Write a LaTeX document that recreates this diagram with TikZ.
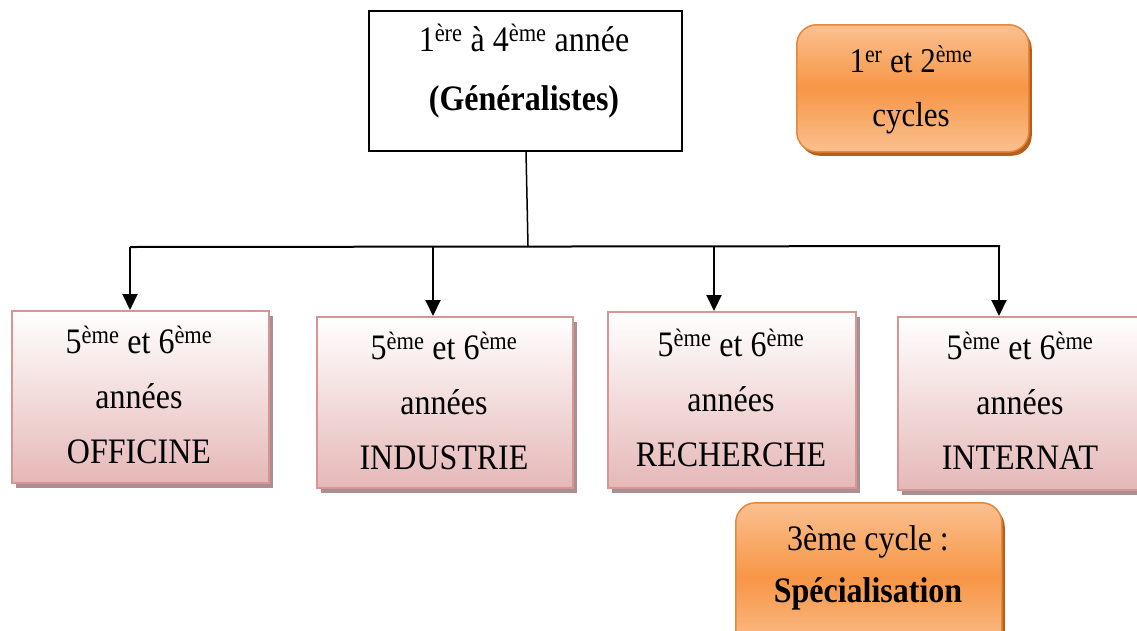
\documentclass[tikz,border=0pt]{standalone}
\usepackage{fontspec}
\setmainfont{Liberation Serif}
\usetikzlibrary{arrows.meta,shadows}
\definecolor{pinkb}{HTML}{D99594}
\definecolor{pinkf}{HTML}{E5B8B7}
\definecolor{pinksh}{HTML}{A89090}
\definecolor{orl}{HTML}{FAC090}
\definecolor{orm}{HTML}{F79646}
\definecolor{orb}{HTML}{E6873C}
\definecolor{orsh}{HTML}{B65F1A}
\tikzset{
  pinkbox/.style={draw=pinkb, line width=2pt, top color=white, bottom color=pinkf,
    inner sep=0pt, anchor=north west,
    drop shadow={shadow xshift=4pt, shadow yshift=-5pt, fill=pinksh, opacity=1}},
  orbox/.style={draw=orb, line width=1.5pt, rounded corners=20pt,
    top color=orl, bottom color=orl, middle color=orm,
    inner sep=0pt, anchor=north west,
    drop shadow={shadow xshift=3pt, shadow yshift=-4pt, fill=orsh, opacity=1}},
  genbox/.style={draw=black, line width=1.5pt, fill=white, inner sep=0pt, anchor=north west},
  txt/.style={align=center, inner sep=0pt, yscale=1.12, transform shape, font=\fontsize{32}{49}\selectfont},
  arr/.style={line width=2pt, -{Triangle[width=15pt,length=16pt]}},
  bus/.style={line width=2pt}
}
\begin{document}
\begin{tikzpicture}[x=1pt,y=-1pt]
\useasboundingbox (0,0) rectangle (1137,630);
\clip (0,0) rectangle (1137,630);
% top box
\node[genbox, minimum width=313pt, minimum height=140pt] (gen) at (368,10) {};
\node[txt, font=\fontsize{32}{52}\selectfont] (gent) at (524,71) {1\textsuperscript{ère} à 4\textsuperscript{ème} année\\\textbf{(Généralistes)}};
% orange boxes
\node[orbox, minimum width=232pt, minimum height=127pt] (cyc) at (796,24) {};
\node[txt, font=\fontsize{31}{48}\selectfont] (cyct) at (911,90) {1\textsuperscript{er} et 2\textsuperscript{ème}\\cycles};
\node[orbox, minimum width=266pt, minimum height=150pt] (spe) at (735,502) {};
\node[txt, font=\fontsize{32}{47}\selectfont] (spet) at (868,568) {3ème cycle :\\\textbf{Spécialisation}};
% pink boxes
\node[pinkbox, minimum width=257pt, minimum height=172pt] (b1) at (11,310) {};
\node[pinkbox, minimum width=256pt, minimum height=171pt] (b2) at (316,316) {};
\node[pinkbox, minimum width=248pt, minimum height=176pt] (b3) at (607,311) {};
\node[pinkbox, minimum width=250pt, minimum height=173pt] (b4) at (897,316) {};
\node[txt] (t1) at (139,395) {5\textsuperscript{ème} et 6\textsuperscript{ème}\\années\\OFFICINE};
\node[txt] (t2) at (444,401) {5\textsuperscript{ème} et 6\textsuperscript{ème}\\années\\INDUSTRIE};
\node[txt] (t3) at (731,398) {5\textsuperscript{ème} et 6\textsuperscript{ème}\\années\\RECHERCHE};
\node[txt] (t4) at (1020,401) {5\textsuperscript{ème} et 6\textsuperscript{ème}\\années\\INTERNAT};
% connectors
\coordinate (j) at (528,246);
\coordinate (bl) at (130,247);
\coordinate (br) at (1000,246);
\coordinate (c1) at (130,247);
\coordinate (c2) at (433,247);
\coordinate (c3) at (714,247);
\coordinate (c4) at (999,247);
\draw[line width=1.5pt] (gen.south -| 526,0) -- (j);
\draw[bus] (bl) -- (br);
\draw[arr] (c1) -- (c1 |- b1.north);
\draw[arr] (c2) -- (c2 |- b2.north);
\draw[arr] (c3) -- (c3 |- b3.north);
\draw[arr] (c4) -- (c4 |- b4.north);
\end{tikzpicture}
\end{document}
